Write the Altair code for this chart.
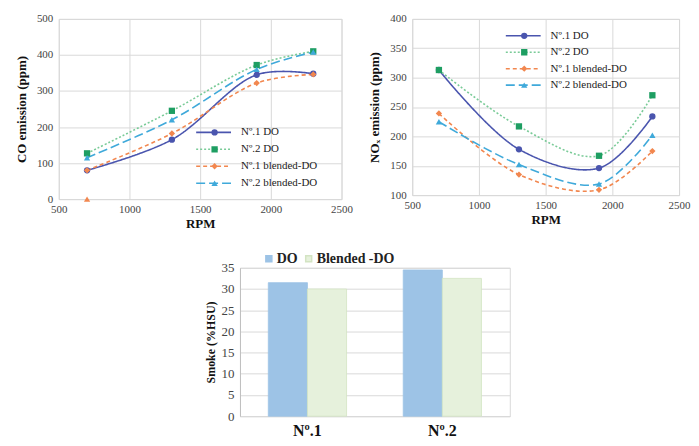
import altair as alt
import pandas as pd

# ---------------- data ----------------
rpm = [700, 1300, 1900, 2300]
series_names = ["Nº.1 DO", "Nº.2 DO", "Nº.1 blended-DO", "Nº.2 blended-DO"]
co_no1_do = [80, 165, 345, 348]
co_no2_do = [127, 245, 372, 410]
co_no1_bl = [80, 182, 322, 346]
co_no2_bl = [115, 220, 360, 408]
co_stray_rpm = [700]
co_stray_val = [0]

nox_no1_do = [313, 178, 146, 234]
nox_no2_do = [313, 217, 167, 270]
nox_no1_bl = [239, 135, 109, 175]
nox_no2_bl = [225, 152, 119, 202]

engines = ["Nº.1", "Nº.2"]
fuels = ["DO", "Blended -DO"]
smoke_do = [31.5, 34.5]
smoke_bl = [30.0, 32.5]

# ---------------- styling ----------------
FONT = "Liberation Serif"
line_colors = ["#4A55AE", "#7ACB98", "#F2874F", "#3FA9DA"]
point_colors = ["#4A55AE", "#1E9E62", "#F2874F", "#3FA9DA"]
dashes = [[1, 0], [2, 2], [4, 3], [9, 4]]
shapes = ["circle", "square", "diamond", "triangle-up"]
GRID = "#D9D9D9"
CH = ["color", "fill", "shape", "strokeDash", "stroke"]


def indep(c):
    return c.resolve_scale(**{k: "independent" for k in CH}).resolve_legend(
        **{k: "independent" for k in CH})


def long_df(vals_list):
    rows = []
    for name, vals in zip(series_names, vals_list):
        for r, v in zip(rpm, vals):
            rows.append({"rpm": r, "val": v, "series": name})
    return pd.DataFrame(rows)


def line_panel(df, ytitle, ydomain, yvalues, width, height, legx, legy, rowpad, stray=None):
    xenc = alt.X(
        "rpm:Q",
        scale=alt.Scale(domain=[500, 2500], nice=False),
        axis=alt.Axis(values=[500, 1000, 1500, 2000, 2500], format="d", title="RPM", grid=True,
                      gridColor=GRID, domain=False, ticks=False, labelPadding=4,
                      labelFlush=False, labelFont=FONT, titleFont=FONT,
                      titleFontWeight="bold", titleFontSize=13, titlePadding=4),
    )
    yenc = alt.Y(
        "val:Q",
        scale=alt.Scale(domain=ydomain, nice=False),
        axis=alt.Axis(values=yvalues, format="d", title=ytitle, grid=True, gridColor=GRID,
                      domain=False, ticks=False, labelPadding=6,
                      labelFont=FONT, titleFont=FONT,
                      titleFontWeight="bold", titleFontSize=13, titlePadding=8),
    )
    leg_common = dict(orient="none", title=None, direction="vertical", clipHeight=14,
                      rowPadding=rowpad, labelFont=FONT, labelFontSize=11,
                      labelColor="#222", labelFontWeight="normal")
    line_leg = dict(legendX=legx, legendY=legy, symbolType="stroke", labelOffset=9,
                    symbolSize=1225, symbolStrokeWidth=1.6, **leg_common)
    pt_leg = dict(legendX=legx + 14, legendY=legy, symbolSize=40,
                  labelExpr="''", **leg_common)
    base = alt.Chart(df)
    line = base.mark_line(interpolate="catmull-rom", strokeWidth=1.6).encode(
        x=xenc, y=yenc,
        color=alt.Color("series:N", scale=alt.Scale(domain=series_names, range=line_colors),
                        legend=alt.Legend(**line_leg)),
        strokeDash=alt.StrokeDash("series:N", scale=alt.Scale(domain=series_names, range=dashes),
                                  legend=alt.Legend(**line_leg)),
    )
    pts = base.mark_point(filled=True, size=40, opacity=1, strokeWidth=0).encode(
        x=xenc, y=yenc,
        fill=alt.Fill("series:N", scale=alt.Scale(domain=series_names, range=point_colors),
                      legend=alt.Legend(**pt_leg)),
        shape=alt.Shape("series:N", scale=alt.Scale(domain=series_names, range=shapes),
                        legend=alt.Legend(**pt_leg)),
    )
    layers = [line, pts]
    if stray is not None:
        sp = alt.Chart(stray).mark_point(filled=True, size=40, shape="triangle-up",
                                         color="#F2874F", opacity=1).encode(x=xenc, y=yenc)
        layers.append(sp)
    return indep(alt.layer(*layers)).properties(width=width, height=height)


co_df = long_df([co_no1_do, co_no2_do, co_no1_bl, co_no2_bl])
stray_df = pd.DataFrame({"rpm": co_stray_rpm, "val": co_stray_val})
nox_df = long_df([nox_no1_do, nox_no2_do, nox_no1_bl, nox_no2_bl])

co = line_panel(co_df, "CO emission (ppm)", [0, 500], [0, 100, 200, 300, 400, 500],
                284, 181, 137, 107, 3, stray=stray_df)
nox = line_panel(nox_df, "NOₓ emission (ppm)", [100, 400], [100, 150, 200, 250, 300, 350, 400],
                 268, 177, 93, 10, 2.5)

# ---------------- bar chart ----------------
bar_rows = []
for e, d, b in zip(engines, smoke_do, smoke_bl):
    bar_rows.append({"engine": e, "fuel": fuels[0], "smoke": d})
    bar_rows.append({"engine": e, "fuel": fuels[1], "smoke": b})
bar_df = pd.DataFrame(bar_rows)

bars = alt.Chart(bar_df).mark_bar(strokeWidth=0.8).encode(
    x=alt.X("engine:N", sort=engines,
            scale=alt.Scale(paddingInner=0.42, paddingOuter=0.21),
            axis=alt.Axis(title=None, labelAngle=0, labelFontSize=16, labelFontWeight="bold",
                          labelColor="#111", ticks=False, domain=True, domainColor=GRID,
                          labelPadding=6, labelFont=FONT)),
    xOffset=alt.XOffset("fuel:N", sort=fuels),
    y=alt.Y("smoke:Q", scale=alt.Scale(domain=[0, 35], nice=False),
            axis=alt.Axis(values=[0, 5, 10, 15, 20, 25, 30, 35], title="Smoke (%HSU)",
                          grid=True, gridColor=GRID, domain=True, domainColor="#BFBFBF",
                          ticks=False, labelFontSize=13, labelPadding=6, labelFont=FONT,
                          titleFont=FONT,
                          titleFontWeight="bold", titleFontSize=12, titlePadding=4)),
    color=alt.Color("fuel:N", sort=fuels,
                    scale=alt.Scale(domain=fuels, range=["#9DC3E6", "#E6F1DC"]),
                    legend=alt.Legend(orient="none", legendX=22, legendY=-16, direction="horizontal",
                                      title=None, symbolType="square", symbolSize=36,
                                      labelFont=FONT, labelFontSize=14, labelFontWeight="bold",
                                      labelColor="#222", columnPadding=4, labelOffset=1)),
    stroke=alt.Stroke("fuel:N", sort=fuels,
                      scale=alt.Scale(domain=fuels, range=["#9DC3E6", "#D3E4C3"]),
                      legend=None),
).properties(width=271, height=149)

spacer = alt.Chart(pd.DataFrame({"a": [0]})).mark_point(opacity=0).encode(
    x=alt.value(0), y=alt.value(0)
).properties(width=135, height=10, view=alt.ViewBackground(strokeOpacity=0))

top = indep(alt.hconcat(co, nox, spacing=15))
bottom = indep(alt.hconcat(spacer, bars, spacing=10))
chart = indep(alt.vconcat(top, bottom, spacing=19)).properties(
    padding={"left": 7, "top": 3, "right": 0, "bottom": 0}
).configure(font=FONT).configure_axis(
    labelFont=FONT, titleFont=FONT, labelColor="#444", titleColor="#111", labelFontSize=11
).configure_view(stroke=GRID)

chart.save("out.html", embed_options={"renderer": "svg", "actions": False})
